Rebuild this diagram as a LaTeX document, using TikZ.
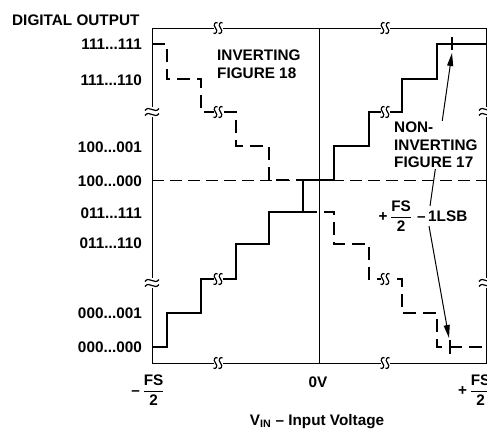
\documentclass[tikz,border=0pt]{standalone}
\usepackage{fontspec}
\setmainfont{Liberation Sans}
\usetikzlibrary{arrows.meta}
\begin{document}
\begin{tikzpicture}[x=1pt,y=-1pt,
  lbl/.style={font=\fontsize{15.3}{18}\selectfont\bfseries, inner sep=0pt},
  frame/.style={line width=0.9pt},
  stair/.style={line width=2.8pt, line cap=butt, line join=miter},
  dstair/.style={stair, dash pattern=on 13pt off 7pt},
  refline/.style={line width=0.9pt, dash pattern=on 12pt off 6pt},
  lead/.style={line width=1pt, -{Triangle[length=13pt,width=6pt]}},
  brk/.style={line width=1.2pt},
  hbreak/.pic={
    \fill[white] (-4.5,-2.2) rectangle (4.5,2.2);
    \foreach \c in {-2.5,2.5}
      \draw[brk] ({\c+2},-5) .. controls ({\c},-7) and ({\c-3},-3) .. ({\c},0)
                 .. controls ({\c+3},3) and ({\c},7) .. ({\c-2},5);
  },
  vbreak/.pic={
    \fill[white] (-2,-5) rectangle (2,5);
    \foreach \c in {-2.5,2.5}
      \draw[brk] (-7,{\c+1}) .. controls (-3,{\c-5}) and (3,{\c+5}) .. (7,{\c-1});
  },
]
\useasboundingbox (0,0) rectangle (487,429);

% frame, centre line, reference line
\draw[frame] (152,28) rectangle (486,363);
\draw[frame] (319,28) -- (319,363);
\draw[refline] (152,180) -- (486,180);

% non-inverting staircase (solid)
\draw[stair] (152,347) -- (167,347) -- (167,313) -- (201,313) -- (201,279) -- (236,279)
  -- (236,244) -- (269,244) -- (269,212) -- (303,212) -- (303,180) -- (334,180)
  -- (334,146) -- (369,146) -- (369,112) -- (402,112) -- (402,79) -- (437,79)
  -- (437,44) -- (486,44);

% inverting staircase (dashed)
\draw[dstair] (152,44) -- (167,44) -- (167,79) -- (201,79) -- (201,112) -- (236,112)
  -- (236,146) -- (269,146) -- (269,180) -- (303,180) -- (303,212) -- (334,212)
  -- (334,244) -- (369,244) -- (369,279) -- (402,279) -- (402,313) -- (437,313)
  -- (437,347) -- (486,347);

% break marks
\pic at (218,28) {hbreak};
\pic at (385,28) {hbreak};
\pic at (218,363) {hbreak};
\pic at (385,363) {hbreak};
\pic at (218,279) {hbreak};
\pic at (218,112) {hbreak};
\pic at (385,112) {hbreak};
\pic at (385,279) {hbreak};
\pic at (152,112) {vbreak};
\pic at (152,283) {vbreak};
\pic at (486,112) {vbreak};
\pic at (486,283) {vbreak};

% ticks
\draw[line width=1.2pt] (452,37) -- (452,50);
\draw[line width=1.2pt] (450,340) -- (450,354);

% leaders
\coordinate (t1) at (452,53);
\coordinate (t2) at (449,338);
\coordinate (s1) at (430,206);
\coordinate (s2) at (429,226);
\draw[lead] (s1) -- (t1);
\draw[lead] (s2) -- (t2);

% labels
\node[lbl, anchor=west] (title) at (12,20) {DIGITAL OUTPUT};
\node[lbl, anchor=east] (c1) at (142,44) {111...111};
\node[lbl, anchor=east] (c2) at (142,80) {111...110};
\node[lbl, anchor=east] (c3) at (142,147) {100...001};
\node[lbl, anchor=east] (c4) at (142,181) {100...000};
\node[lbl, anchor=east] (c5) at (142,213) {011...111};
\node[lbl, anchor=east] (c6) at (142,243) {011...110};
\node[lbl, anchor=east] (c7) at (142,313) {000...001};
\node[lbl, anchor=east] (c8) at (142,347) {000...000};

\node[lbl, align=left, anchor=north west] (inv) at (217,50) {INVERTING\\FIGURE 18};
\node[lbl, align=left, anchor=north west, fill=white, inner sep=1pt,
      font=\fontsize{15.3}{17.5}\selectfont\bfseries] (noninv) at (393,121) {NON-\\INVERTING\\FIGURE 17};

\node[lbl] (fs1) at (423,216) {+\,$\displaystyle\frac{\mbox{FS}}{\mbox{2}}$\,\,–\,1LSB};

\node[lbl] (xl) at (148,390) {–\,$\displaystyle\frac{\mbox{FS}}{\mbox{2}}$};
\node[lbl] (x0) at (318,382) {0V};
\node[lbl, anchor=west] (xr) at (458,390) {+\,$\displaystyle\frac{\mbox{FS}}{\mbox{2}}$};
\node[lbl, anchor=base] (xt) at (317,425) {V\textsubscript{IN} – Input Voltage};
\end{tikzpicture}
\end{document}
